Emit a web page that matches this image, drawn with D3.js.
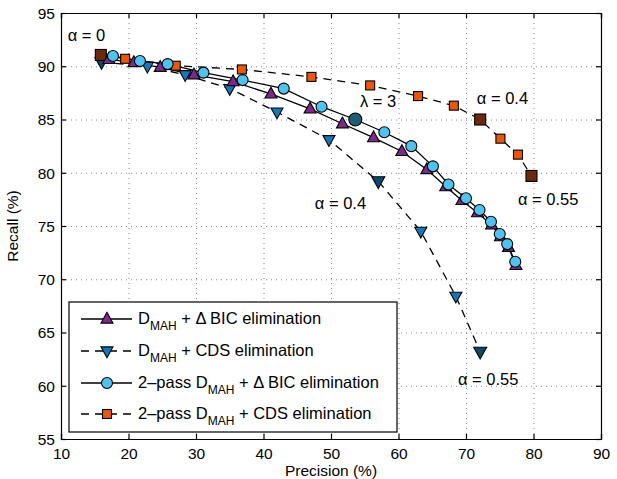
<!DOCTYPE html>
<html><head><meta charset="utf-8">
<script src="https://cdnjs.cloudflare.com/ajax/libs/d3/7.8.5/d3.min.js"></script>
<style>body{margin:0;background:#fff}svg{display:block;font-family:"Liberation Sans",Arial,sans-serif}</style>
</head><body><svg id="c" width="617" height="479"></svg>
<script>
const xTicks=[10,20,30,40,50,60,70,80,90];
const yTicks=[55,60,65,70,75,80,85,90,95];
// D_MAH + ΔBIC elimination
const bicP=[17.1,20.8,24.7,29.7,35.5,41.1,46.9,51.7,56.3,60.5,64.2,67.0,69.4,71.7,73.8,75.1,76.3,77.4];
const bicR=[90.65,90.35,89.9,89.2,88.55,87.4,86.0,84.6,83.3,82.0,80.3,78.7,77.4,76.25,75.1,74.0,73.0,71.3];
// D_MAH + CDS elimination
const cdsP=[16.0,22.8,28.4,35.0,42.0,49.7,57.0,63.3,68.5,72.1];
const cdsR=[90.4,90.0,89.2,87.9,85.7,83.1,79.2,74.5,68.4,63.2];
const cdsDark=[true,false,false,false,false,false,true,false,false,true];
// 2-pass D_MAH + ΔBIC elimination
const bic2P=[17.7,21.7,25.8,31.1,36.9,43.0,48.6,53.6,57.9,61.9,65.1,67.4,70.0,72.0,73.7,75.0,76.1,77.3];
const bic2R=[90.96,90.5,90.2,89.4,88.7,87.9,86.2,85.0,83.8,82.5,80.6,78.9,77.6,76.5,75.4,74.25,73.3,71.65];
const bic2Dark=[false,false,false,false,false,false,false,true,false,false,false,false,false,false,false,false,false,false];
// 2-pass D_MAH + CDS elimination
const cds2P=[15.9,19.5,27.0,36.8,47.1,55.8,62.9,68.2,72.1,75.1,77.7,79.7];
const cds2R=[91.06,90.7,90.05,89.7,89.0,88.2,87.2,86.3,85.0,83.2,81.7,79.7];
const cds2Dark=[true,false,false,false,false,false,false,false,true,false,false,true];
const annotations=[
 {t:"α = 0",x:11.0,y:92.4},
 {t:"λ = 3",x:54.3,y:86.2},
 {t:"α = 0.4",x:71.6,y:86.5},
 {t:"α = 0.55",x:77.7,y:77.0},
 {t:"α = 0.4",x:47.6,y:76.6},
 {t:"α = 0.55",x:68.8,y:60.1}
];
const legendLabels=[
 ["","D","MAH"," + Δ BIC elimination"],
 ["","D","MAH"," + CDS elimination"],
 ["2–pass ","D","MAH"," + Δ BIC elimination"],
 ["2–pass ","D","MAH"," + CDS elimination"]
];

const svg=d3.select("#c");
const L=61,R=601,T=13,B=439;
const x=d3.scaleLinear().domain([10,90]).range([L,R]);
const y=d3.scaleLinear().domain([55,95]).range([B,T]);
const fs=15.5, afs=16.5;

// grid
const gridX=svg.append("g").attr("transform",`translate(0,${B})`)
 .call(d3.axisBottom(x).tickValues(xTicks.slice(1,-1)).tickSize(-(B-T)).tickFormat(""));
const gridY=svg.append("g").attr("transform",`translate(${L},0)`)
 .call(d3.axisLeft(y).tickValues(yTicks.slice(1,-1)).tickSize(-(R-L)).tickFormat(""));
[gridX,gridY].forEach(g=>{g.select(".domain").remove();g.selectAll("line").attr("stroke","#888").attr("stroke-width",1).attr("stroke-dasharray","1,4");});

// axes
const ax=svg.append("g").attr("transform",`translate(0,${B})`).call(d3.axisBottom(x).tickValues(xTicks).tickSize(-5).tickPadding(9));
const ay=svg.append("g").attr("transform",`translate(${L},0)`).call(d3.axisLeft(y).tickValues(yTicks).tickSize(-5).tickPadding(6));
const axT=svg.append("g").attr("transform",`translate(0,${T})`).call(d3.axisTop(x).tickValues(xTicks).tickSize(-5).tickFormat(""));
const ayR=svg.append("g").attr("transform",`translate(${R},0)`).call(d3.axisRight(y).tickValues(yTicks).tickSize(-5).tickFormat(""));
[ax,ay,axT,ayR].forEach(g=>{g.selectAll("path,line").attr("stroke","#000").attr("stroke-width",1.2);g.selectAll("text").attr("fill","#000").attr("font-size",fs).attr("font-family","Liberation Sans, Arial, sans-serif");});
ay.selectAll("text").attr("dy","0.35em");

svg.append("text").attr("x",(L+R)/2).attr("y",476).attr("text-anchor","middle").attr("font-size",fs).text("Precision (%)");
svg.append("text").attr("transform",`translate(18,${(T+B)/2}) rotate(-90)`).attr("text-anchor","middle").attr("font-size",fs).text("Recall (%)");

const line=d3.line().x(d=>x(d[0])).y(d=>y(d[1]));
const zip=(a,b)=>a.map((v,i)=>[v,b[i]]);
const dash="8,6";
const series=[
 {d:zip(bicP,bicR),dash:null},
 {d:zip(cdsP,cdsR),dash:dash},
 {d:zip(bic2P,bic2R),dash:null},
 {d:zip(cds2P,cds2R),dash:dash}
];
series.forEach(s=>{
 svg.append("path").datum(s.d).attr("d",line).attr("fill","none").attr("stroke","#000").attr("stroke-width",1.3).attr("stroke-dasharray",s.dash);
});

function tri(g,cx,cy,s,up,fill){
 const h=s*0.9;
 const pts=up?[[cx,cy-h*0.62],[cx-s/2,cy+h*0.38],[cx+s/2,cy+h*0.38]]:[[cx,cy+h*0.62],[cx-s/2,cy-h*0.38],[cx+s/2,cy-h*0.38]];
 g.append("path").attr("d","M"+pts.map(p=>p.join(",")).join("L")+"Z").attr("fill",fill).attr("stroke","#000").attr("stroke-width",1.1);
}
const mk=svg.append("g");
cdsP.forEach((p,i)=>tri(mk,x(p),y(cdsR[i]),cdsDark[i]?13:12,false,cdsDark[i]?"#0b4a6e":"#1677b8"));
cds2P.forEach((p,i)=>{const s=cds2Dark[i]?11:9;mk.append("rect").attr("x",x(p)-s/2).attr("y",y(cds2R[i])-s/2).attr("width",s).attr("height",s).attr("fill",cds2Dark[i]?"#6b2a10":"#e8570f").attr("stroke","#000").attr("stroke-width",1.1);});
bicP.forEach((p,i)=>tri(mk,x(p),y(bicR[i]),12,true,"#7b2a8c"));
bic2P.forEach((p,i)=>mk.append("circle").attr("cx",x(p)).attr("cy",y(bic2R[i])).attr("r",bic2Dark[i]?6.5:5.5).attr("fill",bic2Dark[i]?"#1f5d75":"#4fc3ef").attr("stroke","#000").attr("stroke-width",1.1));

annotations.forEach(a=>svg.append("text").attr("x",x(a.x)).attr("y",y(a.y)).attr("font-size",afs).text(a.t));

// legend
const lg=svg.append("g");
lg.append("rect").attr("x",69).attr("y",302).attr("width",328).attr("height",130).attr("fill","#fff").attr("stroke","#000").attr("stroke-width",1.2);
const rowsY=[319,351,383,414];
rowsY.forEach((ry,i)=>{
 lg.append("line").attr("x1",81).attr("x2",132).attr("y1",ry).attr("y2",ry).attr("stroke","#000").attr("stroke-width",1.3).attr("stroke-dasharray",series[i].dash);
 if(i===0) tri(lg,107,ry,12,true,"#7b2a8c");
 if(i===1) tri(lg,107,ry,12,false,"#1677b8");
 if(i===2) lg.append("circle").attr("cx",107).attr("cy",ry).attr("r",5.5).attr("fill","#4fc3ef").attr("stroke","#000").attr("stroke-width",1.1);
 if(i===3) lg.append("rect").attr("x",102.5).attr("y",ry-4.5).attr("width",9).attr("height",9).attr("fill","#e8570f").attr("stroke","#000").attr("stroke-width",1.1);
 const t=lg.append("text").attr("x",138).attr("y",ry+5).attr("font-size",afs);
 const lab=legendLabels[i];
 t.append("tspan").text(lab[0]+lab[1]);
 t.append("tspan").attr("font-size",12).attr("dy",6).text(lab[2]);
 t.append("tspan").attr("dy",-6).text(lab[3]);
});
</script></body></html>
